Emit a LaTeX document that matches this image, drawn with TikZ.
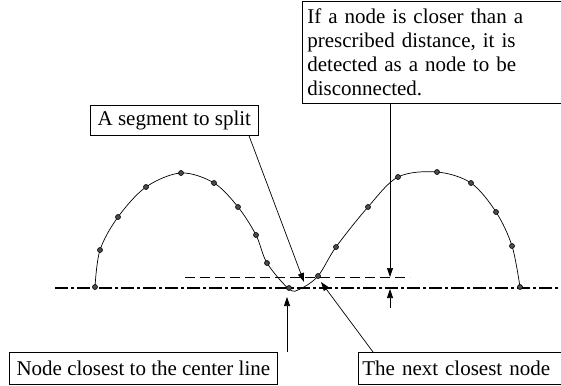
\documentclass[tikz,border=0pt]{standalone}
\usepackage{fontspec}
\setmainfont{Liberation Serif}
\usetikzlibrary{arrows.meta,calc}
\begin{document}
\begin{tikzpicture}[x=1pt,y=-1pt,
  box/.style={draw, line width=0.7pt, inner xsep=4pt, inner ysep=0pt, font=\fontsize{21}{24}\selectfont, anchor=north west},
  dot/.style={circle, draw=black, fill=black!70, line width=0.6pt, inner sep=0pt, minimum size=5pt},
  arr/.style={-{Triangle[length=9pt,width=6pt]}, line width=0.7pt},
  curve/.style={line width=0.7pt},
  center/.style={line width=1.3pt, dash pattern=on 13pt off 3pt on 3pt off 3pt},
  limit/.style={line width=0.6pt, dash pattern=on 10pt off 5pt},
]
\useasboundingbox (0,0) rectangle (561,385);
\fill[white] (0,0) rectangle (561,385);

% boxes
\node[box, minimum width=262pt, minimum height=102pt, text width=252pt, align=left] (info) at (302,1)
  {If a node is closer than a\\prescribed distance, it is\\detected as a node to be\\disconnected.};
\node[box, minimum width=168pt, minimum height=30pt] (seg) at (90,105) {A segment to split};
\node[box, minimum width=268pt, minimum height=32pt] (nc) at (9,352) {Node closest to the center line};
\node[box, minimum width=210pt, minimum height=32pt, text width=202pt, align=left] (nx) at (358,352) {The next closest node};

% reference lines
\draw[center] (55,288) -- (561,288);
\draw[limit] (185,277) -- (410,277);

% curve
\draw[curve] plot[smooth, tension=0.55] coordinates {
  (95,287) (100,250) (118,217) (146,187) (181,173) (214,183) (238,207) (256,235) (267,263)
  (289,289) (300,289) (318,276) (336,247) (368,207) (398,177) (437,172) (471,183) (496,212) (512,246) (520,287)};

% nodes on the curve
\foreach \p [count=\i] in {(95,287),(100,250),(118,217),(146,187),(181,173),(214,183),(238,207),(256,235),(267,263),(289,288),
  (318,276),(336,247),(368,207),(398,177),(437,172),(471,183),(496,212),(512,246),(520,287)}
  \node[dot] (n\i) at \p {};

% arrow targets
\coordinate (limTip) at (390,277);
\coordinate (cenTip) at (390,289);
\coordinate (cenTail) at (390,308);
\coordinate (ncTip) at (287,297);
\coordinate (nxTip) at (321,282);
\coordinate (segTip) at (304,282);

% connectors
\draw[arr] (info.south -| limTip) -- (limTip);
\draw[arr] (cenTail) -- (cenTip);
\draw[arr] (nc.north -| ncTip) -- (ncTip);
\draw[arr] ($(nx.north west)+(15,0)$) -- (nxTip);
\draw[arr] (seg.south -| 249,0) -- (segTip);
\end{tikzpicture}
\end{document}
